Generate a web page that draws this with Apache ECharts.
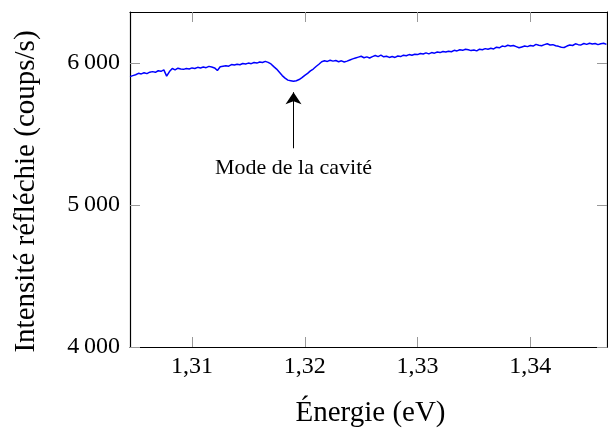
<!DOCTYPE html>
<html>
<head>
<meta charset="utf-8">
<script src="https://cdn.jsdelivr.net/npm/echarts@6/dist/echarts.min.js"></script>
<style>html,body{margin:0;padding:0;background:#fff}#c{width:608px;height:434px}</style>
</head>
<body>
<div id="c"></div>
<script>
const energy = [
  1.30450,1.30475,1.30500,1.30525,1.30550,1.30575,1.30600,1.30625,1.30650,1.30675,
  1.30700,1.30725,1.30750,1.30775,1.30800,1.30825,1.30850,1.30875,1.30900,1.30925,
  1.30950,1.30975,1.31000,1.31025,1.31050,1.31075,1.31100,1.31125,1.31150,1.31175,
  1.31200,1.31225,1.31250,1.31275,1.31300,1.31325,1.31350,1.31375,1.31400,1.31425,
  1.31450,1.31475,1.31500,1.31525,1.31550,1.31575,1.31600,1.31625,1.31650,1.31675,
  1.31700,1.31725,1.31750,1.31775,1.31800,1.31825,1.31850,1.31875,1.31900,1.31925,
  1.31950,1.31975,1.32000,1.32025,1.32050,1.32075,1.32100,1.32125,1.32150,1.32175,
  1.32200,1.32225,1.32250,1.32275,1.32300,1.32325,1.32350,1.32375,1.32400,1.32425,
  1.32450,1.32475,1.32500,1.32525,1.32550,1.32575,1.32600,1.32625,1.32650,1.32675,
  1.32700,1.32725,1.32750,1.32775,1.32800,1.32825,1.32850,1.32875,1.32900,1.32925,
  1.32950,1.32975,1.33000,1.33025,1.33050,1.33075,1.33100,1.33125,1.33150,1.33175,
  1.33200,1.33225,1.33250,1.33275,1.33300,1.33325,1.33350,1.33375,1.33400,1.33425,
  1.33450,1.33475,1.33500,1.33525,1.33550,1.33575,1.33600,1.33625,1.33650,1.33675,
  1.33700,1.33725,1.33750,1.33775,1.33800,1.33825,1.33850,1.33875,1.33900,1.33925,
  1.33950,1.33975,1.34000,1.34025,1.34050,1.34075,1.34100,1.34125,1.34150,1.34175,
  1.34200,1.34225,1.34250,1.34275,1.34300,1.34325,1.34350,1.34375,1.34400,1.34425,
  1.34450,1.34475,1.34500,1.34525,1.34550,1.34575,1.34600,1.34625,1.34650,1.34675
];
const intensity = [
  5905,5912,5918,5928,5924,5932,5926,5936,5940,5935,
  5946,5942,5952,5908,5940,5962,5952,5964,5958,5956,
  5962,5958,5966,5962,5970,5966,5972,5968,5977,5972,
  5966,5948,5974,5978,5982,5978,5990,5986,5992,5988,
  5997,5994,6000,5996,6004,6000,6008,6004,6012,6005,
  5994,5975,5958,5935,5912,5894,5880,5876,5872,5876,
  5884,5898,5914,5928,5945,5958,5976,5992,6010,6016,
  6012,6020,6014,6018,6010,6016,6008,6014,6022,6030,
  6036,6042,6048,6038,6044,6036,6046,6054,6046,6056,
  6044,6048,6040,6046,6040,6050,6046,6056,6052,6060,
  6055,6062,6060,6068,6064,6072,6065,6074,6070,6078,
  6074,6082,6078,6084,6080,6090,6086,6094,6090,6098,
  6094,6088,6092,6086,6098,6094,6102,6098,6104,6100,
  6112,6108,6120,6116,6126,6120,6124,6116,6108,6114,
  6120,6116,6124,6120,6132,6126,6122,6130,6136,6128,
  6130,6122,6118,6112,6110,6120,6128,6124,6136,6130,
  6128,6138,6132,6140,6134,6138,6130,6136,6140,6132
];
const xTicks = [1.31, 1.32, 1.33, 1.34];
const xTickLabels = ['1,31', '1,32', '1,33', '1,34'];
const yTicks = [4000, 5000, 6000];
const yTickLabels = ['4\u2009000', '5\u2009000', '6\u2009000'];
const annotationText = 'Mode de la cavité';
const annotationX = 1.319;
const arrowFrom = 5400;
const arrowTo = 5795;
const textAt = 5262;

const FONT = '"Liberation Serif", "DejaVu Serif", serif';
const xMin = 1.3045, xMax = 1.3468, yMin = 4000, yMax = 6360;

const xfmt = v => { const i = xTicks.findIndex(t => Math.abs(t - v) < 1e-6); return i >= 0 ? xTickLabels[i] : ''; };
const yfmt = v => { const i = yTicks.findIndex(t => Math.abs(t - v) < 1e-6); return i >= 0 ? yTickLabels[i] : ''; };

const tickStyle = { show: true, inside: true, length: 10, customValues: xTicks, lineStyle: { color: '#999', width: 1 } };
const ytickStyle = { show: true, inside: true, length: 10, customValues: yTicks, lineStyle: { color: '#999', width: 1 } };
const axisLine = { show: true, onZero: false, lineStyle: { color: '#000', width: 1.2 } };

const chart = echarts.init(document.getElementById('c'), null, { renderer: 'canvas' });
chart.setOption({
  animation: false,
  backgroundColor: '#fff',
  grid: { left: 130, right: 1, top: 12, bottom: 87, containLabel: false },
  xAxis: [
    { type: 'value', position: 'bottom', min: xMin, max: xMax,
      axisLine: axisLine, axisTick: tickStyle, splitLine: { show: false },
      axisLabel: { customValues: xTicks, formatter: xfmt, color: '#000', fontFamily: FONT, fontSize: 24, margin: 8 },
      name: 'Énergie (eV)', nameLocation: 'middle', nameGap: 52,
      nameTextStyle: { color: '#000', fontFamily: FONT, fontSize: 29, padding: [0, 0, 0, 4] } },
    { type: 'value', position: 'top', min: xMin, max: xMax,
      axisLine: axisLine, axisTick: tickStyle, splitLine: { show: false }, axisLabel: { show: false } }
  ],
  yAxis: [
    { type: 'value', position: 'left', min: yMin, max: yMax,
      axisLine: axisLine, axisTick: ytickStyle, splitLine: { show: false },
      axisLabel: { customValues: yTicks, formatter: yfmt, color: '#000', fontFamily: FONT, fontSize: 24, margin: 10 },
      name: 'Intensité réfléchie (coups/s)', nameLocation: 'middle', nameGap: 89, nameRotate: 90,
      nameTextStyle: { color: '#000', fontFamily: FONT, fontSize: 29, padding: [0, 24, 0, 0] } },
    { type: 'value', position: 'right', min: yMin, max: yMax,
      axisLine: axisLine, axisTick: ytickStyle, splitLine: { show: false }, axisLabel: { show: false } }
  ],
  series: [{
    type: 'line', xAxisIndex: 0, yAxisIndex: 0,
    data: energy.map((e, i) => [e, intensity[i]]),
    showSymbol: false, symbol: 'none',
    lineStyle: { color: '#0000ff', width: 1.5 },
    silent: true,
    markLine: {
      silent: true, animation: false,
      symbol: ['none', 'arrow'], symbolSize: 12,
      lineStyle: { color: '#000', width: 1, type: 'solid' },
      itemStyle: { color: '#000' },
      label: { show: false },
      data: [[{ coord: [annotationX, arrowFrom] }, { coord: [annotationX, arrowTo] }]]
    },
    markPoint: {
      silent: true, symbol: 'rect', symbolSize: 1,
      itemStyle: { color: 'rgba(0,0,0,0)' },
      label: { show: true, position: 'inside', formatter: annotationText, color: '#000', fontFamily: FONT, fontSize: 22 },
      data: [{ coord: [annotationX, textAt] }]
    }
  }]
});
</script>
</body>
</html>
